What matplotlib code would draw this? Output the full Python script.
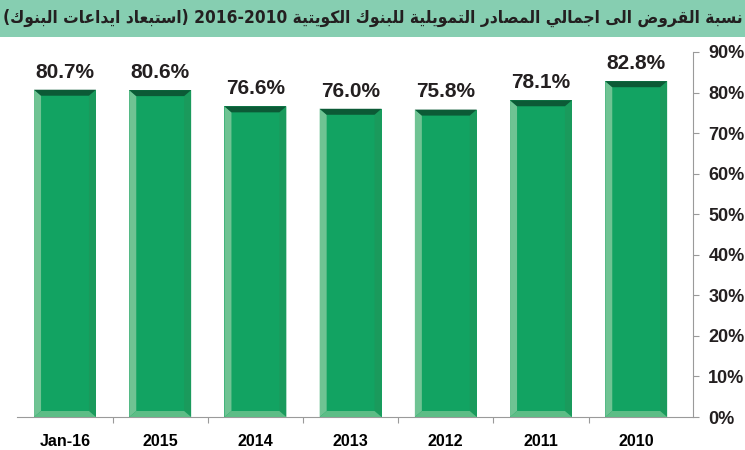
import matplotlib
matplotlib.use("Agg")
import matplotlib.pyplot as plt
from matplotlib.patches import Polygon, Rectangle
from matplotlib.ticker import FuncFormatter, MultipleLocator

categories = ["Jan-16", "2015", "2014", "2013", "2012", "2011", "2010"]
values = [80.7, 80.6, 76.6, 76.0, 75.8, 78.1, 82.8]
title_main = "نسبة القروض الى اجمالي المصادر التمويلية للبنوك الكويتية"
title_years = "2016-2010"
title_note = "استبعاد ايداعات البنوك"

FACE = "#12a362"
TOP = "#0c5a36"
LEFT = "#6fc393"
RIGHT = "#1a9a5c"
BOTTOM = "#5dbd86"
BAR_BG = "#86ceb1"
INK = "#231f20"

# minimal arabic shaping -> presentation forms (isol, fin, init, med)
DUAL = {"ب": 0xFE8F, "ت": 0xFE95, "ج": 0xFE9D, "س": 0xFEB1, "ص": 0xFEB9, "ض": 0xFEBD,
        "ع": 0xFEC9, "ق": 0xFED5, "ك": 0xFED9, "ل": 0xFEDD, "م": 0xFEE1, "ن": 0xFEE5,
        "ي": 0xFEF1}
RIGHT_ONLY = {"ا": 0xFE8D, "ة": 0xFE93, "د": 0xFEA9, "ر": 0xFEAD, "و": 0xFEED, "ى": 0xFEEF}


def shape(s):
    out = []
    for i, c in enumerate(s):
        if c not in DUAL and c not in RIGHT_ONLY:
            out.append(c)
            continue
        prev = s[i - 1] if i > 0 else ""
        nxt = s[i + 1] if i + 1 < len(s) else ""
        jp = prev in DUAL
        jn = c in DUAL and (nxt in DUAL or nxt in RIGHT_ONLY)
        base = DUAL.get(c, RIGHT_ONLY.get(c))
        off = 3 if (jp and jn) else 1 if jp else 2 if jn else 0
        out.append(chr(base + off))
    return "".join(out)


def visual(s):
    return shape(s)[::-1]


title_text = "(" + visual(title_note) + ") " + title_years + " " + visual(title_main)

fig = plt.figure(figsize=(7.45, 4.5), dpi=100)
fig.patches.append(Rectangle((0, 1 - 37 / 450), 1, 37 / 450, transform=fig.transFigure,
                             facecolor=BAR_BG, edgecolor="none", zorder=0))
fig.text(0.5, 1 - 18 / 450, title_text, ha="center", va="center", fontsize=12.4,
         fontweight="bold", fontstretch="condensed", color=INK, family=["DejaVu Sans"])

n = len(categories)
step = 95.2  # px per category
left_px = 65 - step / 2
ax = fig.add_axes([left_px / 745, (450 - 417) / 450, (693 - left_px) / 745, 365 / 450])
x = range(n)
W = 0.65
bars = ax.bar(x, values, width=W, color=FACE, edgecolor="none", zorder=2)
ax.set_xlim(-0.5, -0.5 + (693 - left_px) / step)
ax.set_ylim(0, 90)

# bevel size in data units (approx 7px horizontally, 6px vertically)
bx = 7 / step
by = 6 * 90 / 365
for b, v in zip(bars, values):
    x0, x1 = b.get_x(), b.get_x() + b.get_width()
    ax.add_patch(Polygon([(x0, 0), (x0 + bx, by), (x0 + bx, v - by), (x0, v)], closed=True,
                         facecolor=LEFT, edgecolor="none", zorder=3))
    ax.add_patch(Polygon([(x1, 0), (x1 - bx, by), (x1 - bx, v - by), (x1, v)], closed=True,
                         facecolor=RIGHT, edgecolor="none", zorder=3))
    ax.add_patch(Polygon([(x0, 0), (x1, 0), (x1 - bx, by), (x0 + bx, by)], closed=True,
                         facecolor=BOTTOM, edgecolor="none", zorder=3))
    ax.add_patch(Polygon([(x0, v), (x1, v), (x1 - bx, v - by), (x0 + bx, v - by)], closed=True,
                         facecolor=TOP, edgecolor="none", zorder=3))
    ax.text(b.get_x() + b.get_width() / 2, v + 2.0, f"{v:.1f}%", ha="center", va="bottom",
            fontsize=15, fontweight="bold", color=INK, family="Liberation Sans")

for s in ["top", "left"]:
    ax.spines[s].set_visible(False)
ax.spines["right"].set_color("#9a9a9a")
ax.spines["bottom"].set_color("#9a9a9a")
ax.yaxis.tick_right()
ax.yaxis.set_major_locator(MultipleLocator(10))
ax.yaxis.set_major_formatter(FuncFormatter(lambda y, _: f"{y:.0f}%"))
ax.tick_params(axis="y", direction="out", length=4, color="#9a9a9a", pad=7,
               labelsize=13, labelcolor=INK)
ax.set_xticks([i + 0.5 for i in range(n - 1)], minor=False)
ax.set_xticklabels([])
ax.tick_params(axis="x", direction="out", length=4, color="#9a9a9a")
ax.set_xticks(list(x), minor=True)
ax.set_xticklabels(categories, minor=True)
ax.tick_params(axis="x", which="minor", length=0, pad=12, labelsize=11.5)
for t in ax.get_xticklabels(minor=True) + ax.get_yticklabels():
    t.set_fontweight("bold")
    t.set_family("Liberation Sans")

fig.savefig("out.png", dpi=100)
